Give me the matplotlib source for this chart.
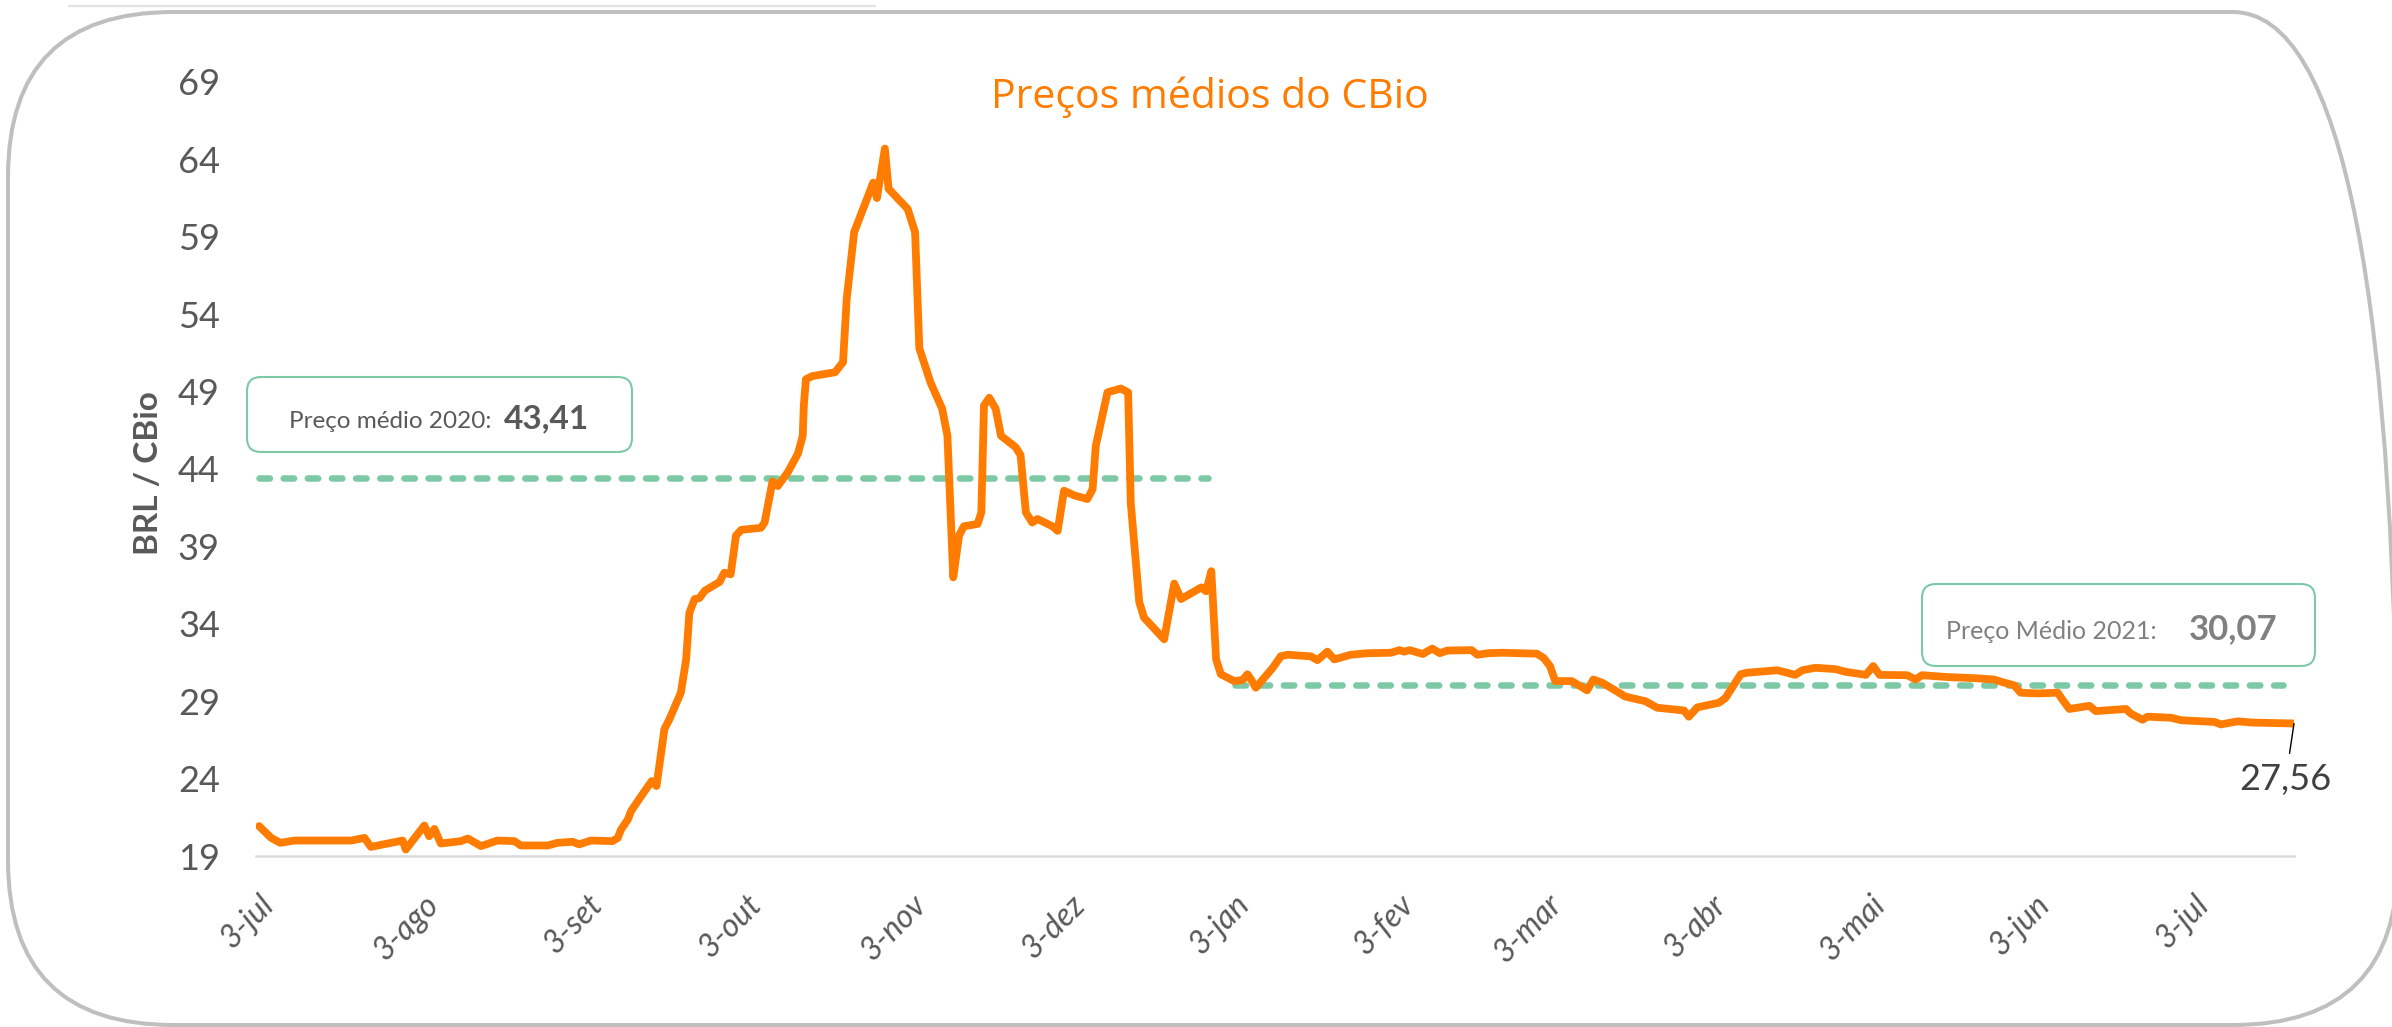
import matplotlib
matplotlib.use("Agg")
import matplotlib.pyplot as plt
import matplotlib.dates as mdates
from matplotlib.patches import FancyBboxPatch
from matplotlib.transforms import IdentityTransform
import pandas as pd

# ---------------- data ----------------
start_date = "2020-07-03"
day_offsets = [0, 2.3, 4, 6.7, 17.4, 19.9, 21.1, 24.9, 27.1, 27.7, 31.2, 32.1, 33.1, 34.3,
               38.1, 39.4, 41.9, 45, 48.2, 49.4, 54.5, 56.3, 59.2, 60.4, 62.6, 66.7, 67.7,
               68.3, 69.6, 70.2, 72.1, 74.1, 75.0, 76.5, 77.4, 79.6, 80.6, 81.2, 82.2, 83.1,
               84.1, 86.9, 87.8, 89, 90, 91, 94.7, 95.4, 96.9, 97.9, 99.8, 101.7, 102.6,
               102.8, 103.2, 104.4, 108.7, 110.2, 110.9, 112.3, 115.9, 116.6, 118.1, 118.8,
               122.4, 123.8, 124.6, 126.7, 128.9, 129.9, 131, 132.1, 133, 135.6, 136.3,
               136.8, 137.8, 139, 140, 142.8, 143.7, 144.7, 145.9, 146.9, 149.7, 150.7,
               151.9, 153.8, 156.3, 157.3, 157.9, 160.1, 162.6, 164, 164.5, 166.1, 167,
               170.8, 172.7, 174, 177.8, 178.7, 179.7, 180.6, 181.5, 184, 185.6, 186.5,
               187.2, 188.1, 191.3, 192.8, 194.1, 198.5, 199.7, 201.6, 202.9, 206, 209.2,
               213.6, 215.2, 216.1, 217.1, 219.6, 221.4, 222.8, 224.2, 228.8, 229.9, 231.9,
               234.5, 241.1, 242.4, 243.6, 244.6, 247.7, 248.7, 250.6, 251.8, 253.4, 255.9,
               257.8, 261.6, 263.8, 266, 268.9, 269.8, 271.4, 275.5, 276.7, 279.6, 280.8,
               286.5, 289.9, 291.2, 293.7, 297.5, 299.4, 303.2, 304.6, 305.8, 311, 312.6,
               313.8, 318.6, 324.2, 327.4, 329.3, 331.2, 332.4, 335.6, 339.4, 340.3, 341.6,
               345.4, 346.6, 352.3, 353.2, 355.4, 356.4, 360.8, 362.7, 369, 370.2, 373.4,
               376, 384]
prices = [20.93, 20.17, 19.85, 20.0, 20.0, 20.17, 19.59, 19.85, 20.0, 19.42, 20.97, 20.28,
          20.75, 19.81, 19.96, 20.13, 19.64, 20.0, 19.96, 19.68, 19.68, 19.85, 19.92, 19.75,
          20.0, 19.96, 20.17, 20.7, 21.36, 21.9, 22.86, 23.84, 23.52, 27.2, 27.8, 29.55,
          31.7, 34.7, 35.6, 35.66, 36.13, 36.7, 37.3, 37.2, 39.7, 40.07, 40.2, 40.54, 43.2,
          42.9, 43.8, 45.0, 46.15, 48.1, 49.8, 50.0, 50.25, 50.9, 55.0, 59.3, 62.5, 61.5,
          64.7, 62.1, 60.8, 59.3, 51.8, 49.6, 47.9, 46.15, 37.0, 39.7, 40.3, 40.45, 41.2,
          48.1, 48.6, 47.9, 46.15, 45.4, 44.9, 41.2, 40.54, 40.77, 40.3, 40.0, 42.6, 42.3,
          42.06, 42.7, 45.5, 48.95, 49.2, 48.95, 41.8, 35.4, 34.4, 33.0, 36.6, 35.6, 36.35,
          36.1, 37.4, 31.7, 30.74, 30.3, 30.37, 30.74, 30.4, 29.87, 31.16, 31.9, 32.0, 31.9,
          31.65, 32.2, 31.7, 32.0, 32.1, 32.13, 32.3, 32.2, 32.3, 32.05, 32.4, 32.1, 32.27,
          32.3, 32.0, 32.1, 32.13, 32.07, 31.8, 31.27, 30.3, 30.3, 30.1, 29.7, 30.4, 30.2,
          29.7, 29.3, 29.0, 28.58, 28.5, 28.4, 28.0, 28.6, 28.9, 29.2, 30.74, 30.84, 31.0,
          30.7, 31.0, 31.16, 31.07, 30.9, 30.7, 31.27, 30.7, 30.68, 30.4, 30.68, 30.56,
          30.48, 30.4, 30.2, 30.03, 29.55, 29.5, 29.55, 29.1, 28.5, 28.7, 28.36, 28.5,
          28.2, 27.8, 28.0, 27.93, 27.77, 27.66, 27.5, 27.7, 27.62, 27.56]

avg_2020 = 43.41
avg_2020_span = [0, 179]
avg_2021 = 30.07
avg_2021_span = [184.2, 382]
last_price_label = "27,56"

title = "Preços médios do CBio"
y_label = "BRL / CBio"
y_ticks = [19, 24, 29, 34, 39, 44, 49, 54, 59, 64, 69]
x_tick_dates = ["2020-07-03", "2020-08-03", "2020-09-03", "2020-10-03", "2020-11-03",
                "2020-12-03", "2021-01-03", "2021-02-03", "2021-03-03", "2021-04-03",
                "2021-05-03", "2021-06-03", "2021-07-03"]
x_tick_labels = ["3-jul", "3-ago", "3-set", "3-out", "3-nov", "3-dez", "3-jan", "3-fev",
                 "3-mar", "3-abr", "3-mai", "3-jun", "3-jul"]

# ---------------- styling ----------------
W, H, DPI = 2392, 1027, 100
ORANGE = "#FF7C00"
GREEN = "#7DC9A6"
GRAY_TXT = "#595959"
BODY_FONT = ["Lato", "DejaVu Sans"]
TITLE_FONT = ["Open Sans", "DejaVu Sans"]


def fx(px):
    return px / W


def fy(py):
    return 1 - py / H


t0 = pd.Timestamp(start_date)
dates = [t0 + pd.Timedelta(days=d) for d in day_offsets]

fig = plt.figure(figsize=(W / DPI, H / DPI), dpi=DPI)
fig.patch.set_facecolor("white")

# outer rounded frame (pixel coordinates)
frame = FancyBboxPatch((8, 2), 2390, 1013, boxstyle="round,pad=0,rounding_size=165",
                       transform=IdentityTransform(), fill=False, edgecolor="#BFBFBF",
                       linewidth=2.9, zorder=0)
fig.patches.append(frame)
fig.lines.append(plt.Line2D([fx(69), fx(875)], [fy(6), fy(6)], transform=fig.transFigure,
                            color="#E3E3E3", linewidth=1.6))

ax_left, ax_right, ax_top, ax_bottom = 256, 2294, 82, 856
ax = fig.add_axes([fx(ax_left), fy(ax_bottom), (ax_right - ax_left) / W,
                   (ax_bottom - ax_top) / H])
ax.set_facecolor("none")

ax.plot(dates, prices, color=ORANGE, linewidth=5.6, solid_joinstyle="round",
        solid_capstyle="round", zorder=3)

for val, span in [(avg_2020, avg_2020_span), (avg_2021, avg_2021_span)]:
    xs = [t0 + pd.Timedelta(days=span[0]), t0 + pd.Timedelta(days=span[1])]
    ax.plot(xs, [val, val], color=GREEN, linewidth=4.7, dashes=(1.6, 2.1),
            dash_capstyle="round", zorder=2)

ax.set_ylim(19, 69)
ax.set_xlim(t0 - pd.Timedelta(days=0.57), t0 + pd.Timedelta(days=384))
ax.set_yticks(y_ticks)
ax.set_yticklabels([str(v) for v in y_ticks], fontfamily=BODY_FONT, fontsize=26,
                   color=GRAY_TXT)
ax.set_xticks([pd.Timestamp(d) for d in x_tick_dates])
ax.set_xticklabels(x_tick_labels, fontfamily=BODY_FONT, fontsize=23, color=GRAY_TXT,
                   style="italic", rotation=45, ha="right", va="top",
                   rotation_mode="anchor")
ax.tick_params(axis="y", length=0, pad=26)
ax.tick_params(axis="x", length=0, pad=24)
for s in ["top", "right", "left"]:
    ax.spines[s].set_visible(False)
ax.spines["bottom"].set_color("#D9D9D9")
ax.spines["bottom"].set_linewidth(1.8)

# title and axis label
fig.text(fx(1210), fy(108), title, ha="center", va="baseline", color=ORANGE,
         fontsize=29.5, fontfamily=TITLE_FONT)
fig.text(fx(149), fy(473), y_label, ha="center", va="center", rotation=90,
         color=GRAY_TXT, fontsize=24, fontweight="bold", fontfamily=BODY_FONT)

# annotation boxes
box20 = FancyBboxPatch((247, H - 452), 385, 75, boxstyle="round,pad=0,rounding_size=14",
                       transform=IdentityTransform(), facecolor="white", edgecolor=GREEN,
                       linewidth=1.5, zorder=5)
fig.patches.append(box20)
fig.text(fx(289), fy(428), "Preço médio 2020:", ha="left", va="baseline", color=GRAY_TXT,
         fontsize=17.5, fontfamily=BODY_FONT, zorder=6)
fig.text(fx(589), fy(428), "43,41", ha="right", va="baseline", color=GRAY_TXT,
         fontsize=24, fontweight="bold", fontfamily=BODY_FONT, zorder=6)

box21 = FancyBboxPatch((1922, H - 666), 393, 82, boxstyle="round,pad=0,rounding_size=14",
                       transform=IdentityTransform(), facecolor="white", edgecolor=GREEN,
                       linewidth=1.5, zorder=5)
fig.patches.append(box21)
fig.text(fx(1946), fy(639), "Preço Médio 2021:", ha="left", va="baseline", color="#808080",
         fontsize=18, fontfamily=BODY_FONT, zorder=6)
fig.text(fx(2277), fy(639), "30,07", ha="right", va="baseline", color="#808080",
         fontsize=25, fontweight="bold", fontfamily=BODY_FONT, zorder=6)

# last value label with leader line
last_x = mdates.date2num(dates[-1])
ax.annotate(last_price_label, xy=(last_x, prices[-1]), xytext=(2286 - 2292, -(780 - 724) * 0.72),
            textcoords="offset points", ha="center", va="center", fontsize=26,
            fontfamily=BODY_FONT, color="#404040",
            arrowprops=dict(arrowstyle="-", color="black", linewidth=1.0,
                            shrinkA=5, shrinkB=0))

fig.savefig("out.png", dpi=DPI, facecolor="white")
